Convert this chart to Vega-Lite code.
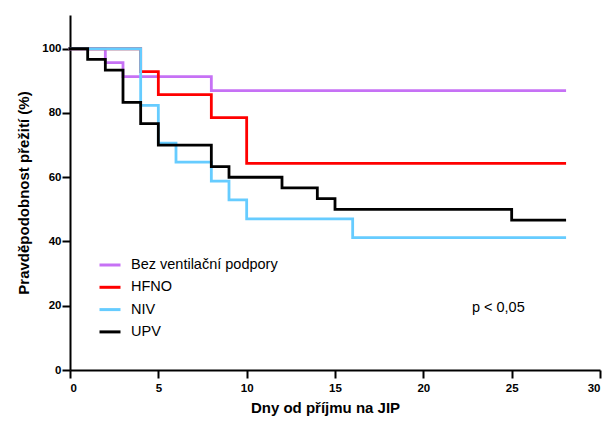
{
  "$schema": "https://vega.github.io/schema/vega-lite/v6.json",
  "width": 530,
  "height": 355,
  "autosize": {"type": "none"},
  "padding": {"left": 70, "top": 15, "right": 10, "bottom": 53},
  "background": "white",
  "config": {
    "view": {"stroke": null},
    "font": "Liberation Sans",
    "axis": {
      "grid": false,
      "domainColor": "black",
      "domainWidth": 2,
      "tickColor": "black",
      "tickWidth": 2,
      "tickSize": 8,
      "labelFont": "Liberation Sans",
      "labelFontWeight": "bold",
      "labelFontSize": 11.5,
      "labelColor": "black",
      "titleFont": "Liberation Sans",
      "titleFontWeight": "bold",
      "titleFontSize": 15,
      "titleColor": "black"
    }
  },
  "layer": [
    {
      "data": {
        "values": [
          {"skupina": "Bez ventilační podpory", "den": 0, "preziti": 100},
          {"skupina": "Bez ventilační podpory", "den": 2, "preziti": 95.65},
          {"skupina": "Bez ventilační podpory", "den": 3, "preziti": 91.3},
          {"skupina": "Bez ventilační podpory", "den": 8, "preziti": 86.96},
          {"skupina": "Bez ventilační podpory", "den": 28, "preziti": 86.96},
          {"skupina": "HFNO", "den": 0, "preziti": 100},
          {"skupina": "HFNO", "den": 4, "preziti": 92.86},
          {"skupina": "HFNO", "den": 5, "preziti": 85.71},
          {"skupina": "HFNO", "den": 8, "preziti": 78.57},
          {"skupina": "HFNO", "den": 10, "preziti": 64.29},
          {"skupina": "HFNO", "den": 28, "preziti": 64.29},
          {"skupina": "NIV", "den": 0, "preziti": 100},
          {"skupina": "NIV", "den": 4, "preziti": 82.35},
          {"skupina": "NIV", "den": 5, "preziti": 70.59},
          {"skupina": "NIV", "den": 6, "preziti": 64.71},
          {"skupina": "NIV", "den": 8, "preziti": 58.82},
          {"skupina": "NIV", "den": 9, "preziti": 52.94},
          {"skupina": "NIV", "den": 10, "preziti": 47.06},
          {"skupina": "NIV", "den": 16, "preziti": 41.18},
          {"skupina": "NIV", "den": 28, "preziti": 41.18},
          {"skupina": "UPV", "den": 0, "preziti": 100},
          {"skupina": "UPV", "den": 1, "preziti": 96.67},
          {"skupina": "UPV", "den": 2, "preziti": 93.33},
          {"skupina": "UPV", "den": 3, "preziti": 83.33},
          {"skupina": "UPV", "den": 4, "preziti": 76.67},
          {"skupina": "UPV", "den": 5, "preziti": 70},
          {"skupina": "UPV", "den": 8, "preziti": 63.33},
          {"skupina": "UPV", "den": 9, "preziti": 60},
          {"skupina": "UPV", "den": 12, "preziti": 56.67},
          {"skupina": "UPV", "den": 14, "preziti": 53.33},
          {"skupina": "UPV", "den": 15, "preziti": 50},
          {"skupina": "UPV", "den": 25, "preziti": 46.67},
          {"skupina": "UPV", "den": 28, "preziti": 46.67}
        ]
      },
      "mark": {"type": "line", "interpolate": "step-after", "strokeWidth": 2.8, "strokeCap": "square"},
      "encoding": {
        "x": {
          "field": "den", "type": "quantitative",
          "scale": {"domain": [0, 30], "nice": false, "zero": true},
          "axis": {"values": [0, 5, 10, 15, 20, 25, 30], "title": "Dny od příjmu na JIP", "labelPadding": 4, "titlePadding": 7, "titleX": 255}
        },
        "y": {
          "field": "preziti", "type": "quantitative",
          "scale": {"domain": [0, 110.5], "nice": false},
          "axis": {"values": [0, 20, 40, 60, 80, 100], "title": "Pravděpodobnost přežití (%)", "labelPadding": 1, "titlePadding": 10}
        },
        "color": {
          "field": "skupina", "type": "nominal",
          "scale": {
            "domain": ["Bez ventilační podpory", "HFNO", "NIV", "UPV"],
            "range": ["#c671f5", "#ff0000", "#66ccff", "#000000"]
          },
          "legend": {
            "title": null,
            "orient": "none",
            "legendX": 28,
            "legendY": 238,
            "symbolType": "stroke",
            "symbolStrokeWidth": 3,
            "symbolSize": 441,
            "labelFont": "Liberation Sans",
            "labelFontSize": 14.5,
            "labelColor": "black",
            "labelOffset": 9,
            "rowPadding": 3.3
          }
        },
        "order": {"field": "den", "type": "quantitative"}
      }
    },
    {
      "data": {"values": [{"den": 22.75, "preziti": 19.3, "text": "p < 0,05"}]},
      "mark": {"type": "text", "align": "left", "baseline": "middle", "fontSize": 14.5, "font": "Liberation Sans", "color": "black"},
      "encoding": {
        "x": {"field": "den", "type": "quantitative"},
        "y": {"field": "preziti", "type": "quantitative"},
        "text": {"field": "text"}
      }
    }
  ]
}
